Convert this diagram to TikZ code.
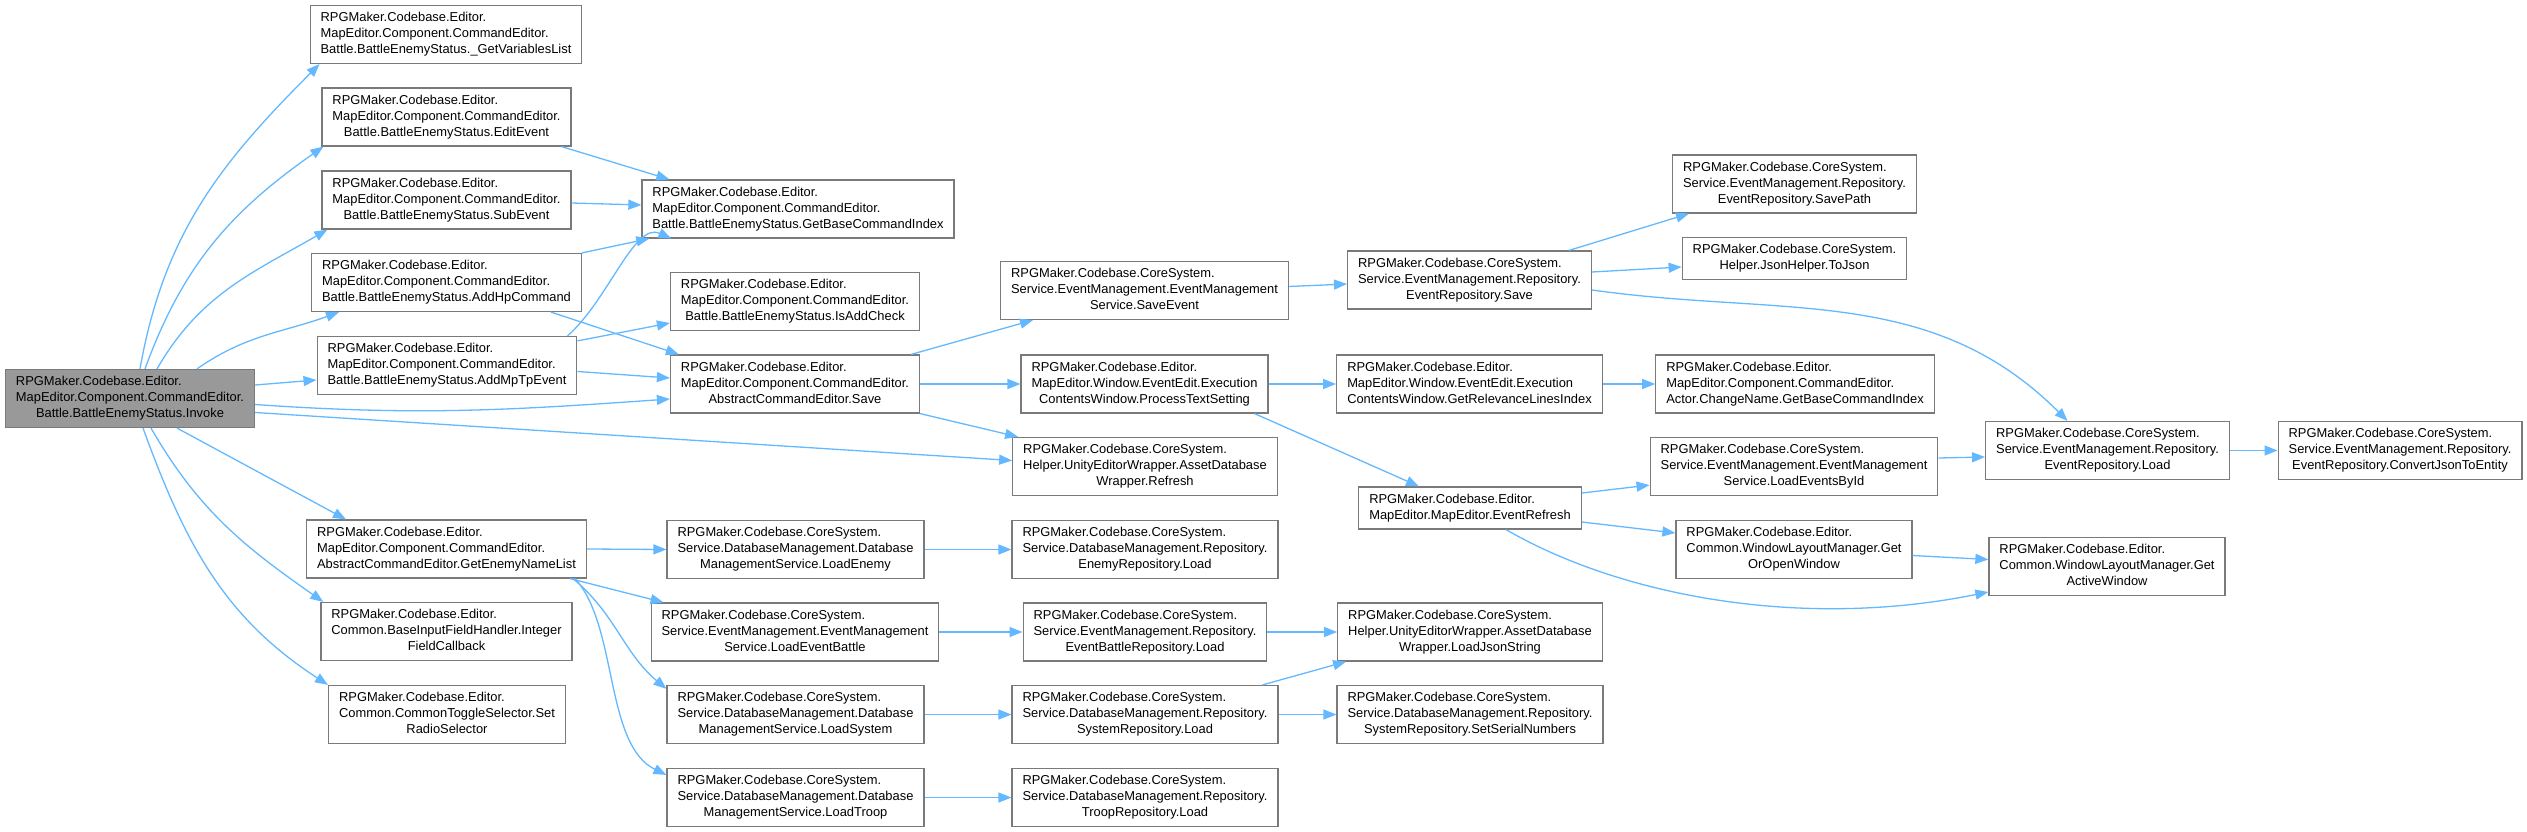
\documentclass[tikz,border=0pt]{standalone}
\usepackage{fontspec}
\setmainfont{Liberation Sans}
\usepackage{xcolor}
\usetikzlibrary{arrows.meta}

\definecolor{edgeblue}{HTML}{63B8FF}
\definecolor{boxgray}{HTML}{7A7A7A}
\definecolor{rootgray}{HTML}{999999}

% first lines left, last line centred (as doxygen does)
\newcommand{\threelines}[3]{\begin{tabular}{@{}l@{}}#1\\#2\\\multicolumn{1}{@{}c@{}}{#3}\end{tabular}}
\newcommand{\twolines}[2]{\begin{tabular}{@{}l@{}}#1\\\multicolumn{1}{@{}c@{}}{#2}\end{tabular}}

\begin{document}
\begin{tikzpicture}[
  x=1pt, y=1pt,
  fn/.style={draw=boxgray, line width=1.2pt, rectangle, fill=white, inner xsep=10.5pt, inner ysep=5pt,
    font=\fontsize{12.9}{16}\selectfont},
  focus/.style={fn, fill=rootgray},
  call/.style={-{Triangle[length=13pt,width=10pt]}, draw=edgeblue, line width=1.3pt}
]
\useasboundingbox (0,0) rectangle (2527,-832);

% Caller
\node[focus] (inv) at (130,-398.5) {\threelines{RPGMaker.Codebase.Editor.}{MapEditor.Component.CommandEditor.}{Battle.BattleEnemyStatus.Invoke}};

% Column 1
\node[fn] (gvl) at (446,-34.5) {\threelines{RPGMaker.Codebase.Editor.}{MapEditor.Component.CommandEditor.}{Battle.BattleEnemyStatus.\_GetVariablesList}};
\node[fn] (edit) at (446.5,-117) {\threelines{RPGMaker.Codebase.Editor.}{MapEditor.Component.CommandEditor.}{Battle.BattleEnemyStatus.EditEvent}};
\node[fn] (sub) at (446.5,-200) {\threelines{RPGMaker.Codebase.Editor.}{MapEditor.Component.CommandEditor.}{Battle.BattleEnemyStatus.SubEvent}};
\node[fn] (addhp) at (446.5,-282.5) {\threelines{RPGMaker.Codebase.Editor.}{MapEditor.Component.CommandEditor.}{Battle.BattleEnemyStatus.AddHpCommand}};
\node[fn] (addmp) at (447,-365.5) {\threelines{RPGMaker.Codebase.Editor.}{MapEditor.Component.CommandEditor.}{Battle.BattleEnemyStatus.AddMpTpEvent}};
\node[fn] (gen) at (446.5,-549) {\threelines{RPGMaker.Codebase.Editor.}{MapEditor.Component.CommandEditor.}{AbstractCommandEditor.GetEnemyNameList}};
\node[fn] (intcb) at (446.5,-631.5) {\threelines{RPGMaker.Codebase.Editor.}{Common.BaseInputFieldHandler.Integer}{FieldCallback}};
\node[fn] (radio) at (447,-714.5) {\threelines{RPGMaker.Codebase.Editor.}{Common.CommonToggleSelector.Set}{RadioSelector}};

% Column 2
\node[fn] (gbci) at (798,-209) {\threelines{RPGMaker.Codebase.Editor.}{MapEditor.Component.CommandEditor.}{Battle.BattleEnemyStatus.GetBaseCommandIndex}};
\node[fn] (isadd) at (795,-301.5) {\threelines{RPGMaker.Codebase.Editor.}{MapEditor.Component.CommandEditor.}{Battle.BattleEnemyStatus.IsAddCheck}};
\node[fn] (save) at (795,-384) {\threelines{RPGMaker.Codebase.Editor.}{MapEditor.Component.CommandEditor.}{AbstractCommandEditor.Save}};
\node[fn] (lenemy) at (795.5,-549.5) {\threelines{RPGMaker.Codebase.CoreSystem.}{Service.DatabaseManagement.Database}{ManagementService.LoadEnemy}};
\node[fn] (lebattle) at (795,-632) {\threelines{RPGMaker.Codebase.CoreSystem.}{Service.EventManagement.EventManagement}{Service.LoadEventBattle}};
\node[fn] (lsys) at (795.5,-714.5) {\threelines{RPGMaker.Codebase.CoreSystem.}{Service.DatabaseManagement.Database}{ManagementService.LoadSystem}};
\node[fn] (ltroop) at (795.5,-797.5) {\threelines{RPGMaker.Codebase.CoreSystem.}{Service.DatabaseManagement.Database}{ManagementService.LoadTroop}};

% Column 3
\node[fn] (saveev) at (1144.5,-290.5) {\threelines{RPGMaker.Codebase.CoreSystem.}{Service.EventManagement.EventManagement}{Service.SaveEvent}};
\node[fn] (ptext) at (1144.5,-384) {\threelines{RPGMaker.Codebase.Editor.}{MapEditor.Window.EventEdit.Execution}{ContentsWindow.ProcessTextSetting}};
\node[fn] (refresh) at (1145,-466.5) {\threelines{RPGMaker.Codebase.CoreSystem.}{Helper.UnityEditorWrapper.AssetDatabase}{Wrapper.Refresh}};
\node[fn] (enemyrepo) at (1145,-549.5) {\threelines{RPGMaker.Codebase.CoreSystem.}{Service.DatabaseManagement.Repository.}{EnemyRepository.Load}};
\node[fn] (ebrepo) at (1145,-632) {\threelines{RPGMaker.Codebase.CoreSystem.}{Service.EventManagement.Repository.}{EventBattleRepository.Load}};
\node[fn] (sysrepo) at (1145,-714.5) {\threelines{RPGMaker.Codebase.CoreSystem.}{Service.DatabaseManagement.Repository.}{SystemRepository.Load}};
\node[fn] (trooprepo) at (1145,-797.5) {\threelines{RPGMaker.Codebase.CoreSystem.}{Service.DatabaseManagement.Repository.}{TroopRepository.Load}};

% Column 4
\node[fn] (evsave) at (1469.5,-280) {\threelines{RPGMaker.Codebase.CoreSystem.}{Service.EventManagement.Repository.}{EventRepository.Save}};
\node[fn] (relidx) at (1469.5,-384) {\threelines{RPGMaker.Codebase.Editor.}{MapEditor.Window.EventEdit.Execution}{ContentsWindow.GetRelevanceLinesIndex}};
\node[fn] (evref) at (1470,-508) {\twolines{RPGMaker.Codebase.Editor.}{MapEditor.MapEditor.EventRefresh}};
\node[fn] (jsonstr) at (1470,-632) {\threelines{RPGMaker.Codebase.CoreSystem.}{Helper.UnityEditorWrapper.AssetDatabase}{Wrapper.LoadJsonString}};
\node[fn] (serial) at (1470,-714.5) {\threelines{RPGMaker.Codebase.CoreSystem.}{Service.DatabaseManagement.Repository.}{SystemRepository.SetSerialNumbers}};

% Column 5
\node[fn] (savepath) at (1794.5,-184) {\threelines{RPGMaker.Codebase.CoreSystem.}{Service.EventManagement.Repository.}{EventRepository.SavePath}};
\node[fn] (tojson) at (1794.5,-258.5) {\twolines{RPGMaker.Codebase.CoreSystem.}{Helper.JsonHelper.ToJson}};
\node[fn] (cngidx) at (1795,-384) {\threelines{RPGMaker.Codebase.Editor.}{MapEditor.Component.CommandEditor.}{Actor.ChangeName.GetBaseCommandIndex}};
\node[fn] (loadbyid) at (1794,-466.5) {\threelines{RPGMaker.Codebase.CoreSystem.}{Service.EventManagement.EventManagement}{Service.LoadEventsById}};
\node[fn] (getopen) at (1794,-549.5) {\threelines{RPGMaker.Codebase.Editor.}{Common.WindowLayoutManager.Get}{OrOpenWindow}};

% Columns 6 and 7
\node[fn] (evload) at (2107.5,-450.5) {\threelines{RPGMaker.Codebase.CoreSystem.}{Service.EventManagement.Repository.}{EventRepository.Load}};
\node[fn] (active) at (2107,-566.5) {\threelines{RPGMaker.Codebase.Editor.}{Common.WindowLayoutManager.Get}{ActiveWindow}};
\node[fn] (convert) at (2400,-450.5) {\threelines{RPGMaker.Codebase.CoreSystem.}{Service.EventManagement.Repository.}{EventRepository.ConvertJsonToEntity}};

% Calls from Invoke
\draw[call] ([xshift=10pt]inv.north) to[out=80, in=225] ([xshift=10pt]gvl.south west);
\draw[call] ([xshift=15pt]inv.north) to[out=70, in=215] ([xshift=2pt]edit.south west);
\draw[call] ([xshift=27pt]inv.north) to[out=60, in=210] ([xshift=6pt]sub.south west);
\draw[call] ([xshift=67pt]inv.north) to[out=35, in=200] ([xshift=28pt]addhp.south west);
\draw[call] ([yshift=13.5pt]inv.east) -- ([yshift=-14.5pt]addmp.west);
\draw[call] ([yshift=-6pt]inv.east) to[out=-4, in=184] ([yshift=-15pt]save.west);
\draw[call] ([yshift=-14pt]inv.east) -- ([yshift=6pt]refresh.west);
\draw[call] ([xshift=47pt]inv.south) -- ([xshift=40pt]gen.north west);
\draw[call] ([xshift=21pt]inv.south) to[out=-60, in=145] ([xshift=3pt]intcb.north west);
\draw[call] ([xshift=13pt]inv.south) to[out=-70, in=147] (radio.north west);

% Battle enemy status helpers
\draw[call] ([xshift=-10pt]edit.south east) -- ([xshift=28pt]gbci.north west);
\draw[call] ([yshift=-3pt]sub.east) -- ([yshift=4pt]gbci.west);
\draw[call] (addhp.north east) -- ([xshift=8pt]gbci.south west);
\draw[call] ([xshift=-31pt]addhp.south east) -- ([xshift=9pt]save.north west);
\draw[call] ([xshift=-10pt]addmp.north east) .. controls +(41,36) and +(-37,17) .. ([xshift=30pt]gbci.south west);
\draw[call] ([yshift=-5pt]addmp.north east) -- ([yshift=-21.5pt]isadd.west);
\draw[call] ([yshift=-6pt]addmp.east) -- ([yshift=6pt]save.west);

% Save chain
\draw[call] ([xshift=-9pt]save.north east) -- ([xshift=33pt]saveev.south west);
\draw[call] (save.east) -- (ptext.west);
\draw[call] (save.south east) -- ([xshift=6pt]refresh.north west);
\draw[call] ([yshift=4pt]saveev.east) -- ([yshift=-4pt]evsave.west);
\draw[call] ([xshift=-23pt]evsave.north east) -- ([xshift=17pt]savepath.south west);
\draw[call] ([yshift=8pt]evsave.east) -- ([yshift=-8.5pt]tojson.west);
\draw[call] ([yshift=-10pt]evsave.east) to[out=-8, in=135] ([xshift=-40pt]evload.north);
\draw[call] (ptext.east) -- (relidx.west);
\draw[call] ([xshift=-14pt]ptext.south east) -- ([xshift=-51pt]evref.north);
\draw[call] (relidx.east) -- (cngidx.west);
\draw[call] ([yshift=15pt]evref.east) -- ([yshift=11pt]loadbyid.south west);
\draw[call] ([yshift=-14pt]evref.east) -- ([yshift=16.5pt]getopen.west);
\draw[call] ([xshift=36pt]evref.south) .. controls +(114,-66) and +(-188,-38) .. ([yshift=-25.5pt]active.west);
\draw[call] ([yshift=8.5pt]loadbyid.east) -- ([yshift=-6.5pt]evload.west);
\draw[call] ([yshift=-6pt]getopen.east) -- ([yshift=7pt]active.west);
\draw[call] (evload.east) -- (convert.west);

% Enemy name list chain
\draw[call] (gen.east) -- (lenemy.west);
\draw[call] ([xshift=-17pt]gen.south east) -- ([xshift=13pt]lebattle.north west);
\draw[call] ([xshift=-14pt]gen.south east) to[out=-40, in=140] ([yshift=-4pt]lsys.north west);
\draw[call] ([xshift=-12pt]gen.south east) .. controls +(43,-47) and +(-62,30) .. ([yshift=-7pt]ltroop.north west);
\draw[call] (lenemy.east) -- (enemyrepo.west);
\draw[call] (lebattle.east) -- (ebrepo.west);
\draw[call] (lsys.east) -- (sysrepo.west);
\draw[call] (ltroop.east) -- (trooprepo.west);
\draw[call] (ebrepo.east) -- (jsonstr.west);
\draw[call] ([xshift=-16pt]sysrepo.north east) -- ([xshift=9pt]jsonstr.south west);
\draw[call] (sysrepo.east) -- (serial.west);
\end{tikzpicture}
\end{document}
